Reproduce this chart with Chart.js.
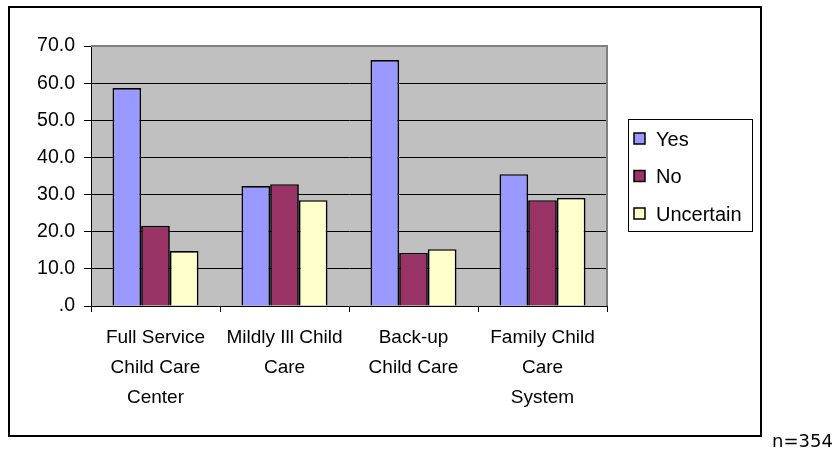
<!DOCTYPE html>
<html>
<head>
<meta charset="utf-8">
<script src="https://cdn.jsdelivr.net/npm/chart.js@4"></script>
<style>
  html, body { margin: 0; padding: 0; background: #fff; }
  #wrap { width: 839px; height: 453px; position: relative; }
</style>
</head>
<body>
<div id="wrap"><canvas id="c" width="839" height="453"></canvas></div>
<script>
// Child care options survey: share of respondents (%) answering each way
const categories = [
  ['Full Service', 'Child Care', 'Center'],
  ['Mildly Ill Child', 'Care'],
  ['Back-up', 'Child Care'],
  ['Family Child', 'Care', 'System']
];
const seriesNames = ['Yes', 'No', 'Uncertain'];
const yesValues = [58.7, 32.3, 66.2, 35.5];
const noValues = [21.6, 32.8, 14.3, 28.5];
const uncertainValues = [14.8, 28.5, 15.3, 29.1];
const sampleNote = 'n=354';

const seriesColors = ['#9999FF', '#993366', '#FFFFCC'];
const FONT = '"Liberation Sans", Arial, sans-serif';

// Grey plot background, grey top/right frame, outer box, custom legend and note
const decor = {
  id: 'decor',
  beforeDraw(chart) {
    const { ctx, chartArea: a } = chart;
    ctx.save();
    ctx.fillStyle = '#ffffff';
    ctx.fillRect(0, 0, chart.width, chart.height);
    ctx.fillStyle = '#C0C0C0';
    ctx.fillRect(a.left, a.top, a.right - a.left, a.bottom - a.top);
    ctx.restore();
  },
  afterDraw(chart) {
    const { ctx, chartArea: a } = chart;
    ctx.save();
    // frame on top and right of plot
    ctx.strokeStyle = '#808080';
    ctx.lineWidth = 2;
    ctx.beginPath();
    ctx.moveTo(a.left, a.top);
    ctx.lineTo(a.right, a.top);
    ctx.lineTo(a.right, a.bottom);
    ctx.stroke();

    // outer box
    ctx.strokeStyle = '#000';
    ctx.lineWidth = 2;
    ctx.strokeRect(9, 7, 752, 429);

    // legend
    ctx.lineWidth = 1;
    ctx.strokeStyle = '#000';
    ctx.strokeRect(628.5, 119.5, 124, 112);
    ctx.font = '20px ' + FONT;
    ctx.textBaseline = 'middle';
    ctx.textAlign = 'left';
    chart.data.datasets.forEach((ds, i) => {
      const cy = 139 + i * 37.5;
      ctx.fillStyle = ds.backgroundColor;
      ctx.fillRect(634, cy - 6, 11, 11);
      ctx.lineWidth = 1.5;
      ctx.strokeRect(634, cy - 6, 11, 11);
      ctx.fillStyle = '#000';
      ctx.fillText(ds.label, 656, cy + 1);
    });

    // sample size note
    ctx.font = '18px "DejaVu Sans", sans-serif';
    ctx.textBaseline = 'alphabetic';
    ctx.fillStyle = '#000';
    ctx.fillText(sampleNote, 772, 447);
    ctx.restore();
  }
};

const valueSets = [yesValues, noValues, uncertainValues];

new Chart(document.getElementById('c'), {
  type: 'bar',
  data: {
    labels: categories,
    datasets: seriesNames.map((name, i) => ({
      label: name,
      data: valueSets[i],
      backgroundColor: seriesColors[i],
      borderColor: '#000',
      borderWidth: 1.7,
      categoryPercentage: 0.667,
      barPercentage: 1
    }))
  },
  options: {
    responsive: false,
    animation: false,
    devicePixelRatio: 1,
    layout: { padding: { left: 9, top: 46, right: 232, bottom: 17 } },
    plugins: { legend: { display: false }, tooltip: { enabled: false } },
    scales: {
      x: {
        grid: { offset: true, drawOnChartArea: false, tickLength: 6, color: '#000', tickColor: '#000' },
        border: { color: '#000', width: 1 },
        ticks: {
          color: '#000',
          padding: 11,
          maxRotation: 0,
          autoSkip: false,
          font: { family: FONT, size: 19, lineHeight: 1.58 }
        },
        afterFit(scale) { scale.height = 130; }
      },
      y: {
        min: 0,
        max: 70,
        grid: {
          color: (c) => (c.tick && c.tick.value === 70 ? '#808080' : '#000'),
          tickColor: '#000',
          tickLength: 7,
          lineWidth: 1
        },
        border: { color: '#000', width: 1 },
        ticks: {
          stepSize: 10,
          color: '#000',
          padding: 9,
          font: { family: FONT, size: 19.5 },
          callback: (v) => (v === 0 ? '.0' : Number(v).toFixed(1))
        },
        afterFit(scale) { scale.width = 82; }
      }
    }
  },
  plugins: [decor]
});
</script>
</body>
</html>
